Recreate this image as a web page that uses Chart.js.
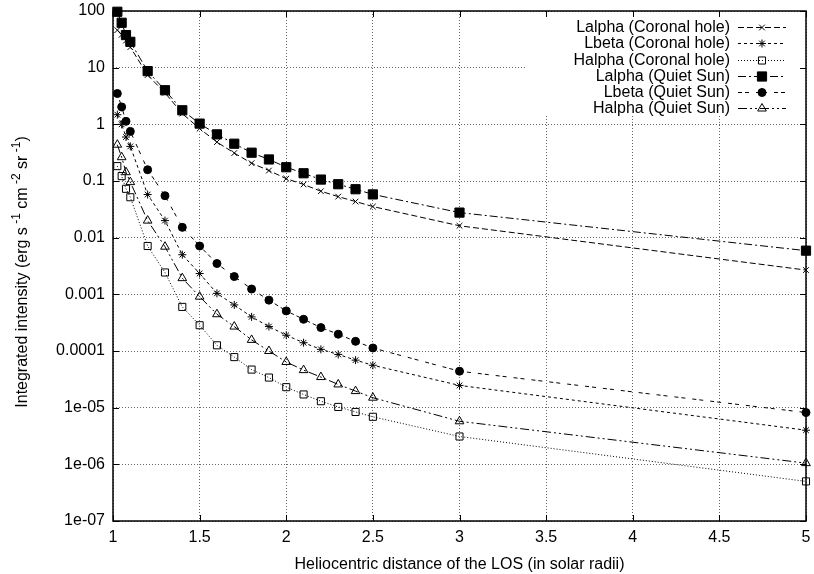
<!DOCTYPE html>
<html>
<head>
<meta charset="utf-8">
<script src="https://cdn.jsdelivr.net/npm/chart.js@4"></script>
<style>
  html, body { margin: 0; padding: 0; background: #fff; }
  #wrap { width: 814px; height: 574px; }
</style>
</head>
<body>
<div id="wrap"><canvas id="chart" width="814" height="574"></canvas></div>
<script>
// ---- data ----
const distances = [1.025, 1.05, 1.075, 1.1, 1.2, 1.3, 1.4, 1.5, 1.6, 1.7, 1.8, 1.9, 2.0, 2.1, 2.2, 2.3, 2.4, 2.5, 3, 5];

const lalphaCH = [46, 38, 30, 23, 7.4, 3.6, 1.55, 0.84, 0.486, 0.311, 0.206, 0.153, 0.11, 0.087, 0.066, 0.053, 0.0434, 0.0354, 0.0162, 0.00268];
const lbetaCH  = [1.48, 1.0, 0.597, 0.408, 0.0577, 0.02, 0.005, 0.00233, 0.00104, 0.00065, 0.0004, 0.00027, 0.00019, 0.00014, 0.000107, 8.7e-5, 6.9e-5, 5.6e-5, 2.47e-5, 4.0e-6];
const halphaCH = [0.183, 0.122, 0.0728, 0.0517, 0.00713, 0.00243, 0.0006, 0.000285, 0.000126, 7.8e-5, 4.7e-5, 3.4e-5, 2.3e-5, 1.71e-5, 1.3e-5, 1.03e-5, 8.4e-6, 6.9e-6, 3.1e-6, 5.0e-7];
const lalphaQS = [97, 62, 37.6, 28.6, 8.7, 4.0, 1.77, 1.03, 0.665, 0.455, 0.316, 0.24, 0.175, 0.137, 0.106, 0.0877, 0.0716, 0.058, 0.0277, 0.0059];
const lbetaQS  = [3.5, 2.03, 1.13, 0.75, 0.158, 0.055, 0.0152, 0.00713, 0.0035, 0.00206, 0.00124, 0.00079, 0.00051, 0.000363, 0.000259, 0.000198, 0.000148, 0.000113, 4.4e-5, 8.2e-6];
const halphaQS = [0.437, 0.263, 0.143, 0.0955, 0.02, 0.00693, 0.00193, 0.00091, 0.000446, 0.00027, 0.000157, 0.0001, 6.4e-5, 4.6e-5, 3.47e-5, 2.57e-5, 1.96e-5, 1.5e-5, 5.75e-6, 1.05e-6];

const seriesLabels = [
  'Lalpha (Coronal hole)', 'Lbeta (Coronal hole)', 'Halpha (Coronal hole)',
  'Lalpha (Quiet Sun)', 'Lbeta (Quiet Sun)', 'Halpha (Quiet Sun)'
];

const xTicks = [1, 1.5, 2, 2.5, 3, 3.5, 4, 4.5, 5];
const yTicks = [100, 10, 1, 0.1, 0.01, 0.001, 0.0001, 1e-5, 1e-6, 1e-7];
const yTickLabels = ['100', '10', '1', '0.1', '0.01', '0.001', '0.0001', '1e-05', '1e-06', '1e-07'];

const FONT = "'Liberation Sans', Arial, sans-serif";
const FONT_SIZE = 16;

// ---- styles ----
const styles = [
  { dash: [6, 3],             point: 'crossRot', radius: 4,   fill: false },
  { dash: [3, 3],             point: 'star',     radius: 4,   fill: false },
  { dash: [1, 2],             point: 'rect',     radius: 5,   fill: false },
  { dash: [8, 3, 2, 3],       point: 'rect',     radius: 6.5, fill: true  },
  { dash: [4, 3, 4, 7],       point: 'circle',   radius: 4,   fill: true  },
  { dash: [9, 3, 2, 3, 2, 3], point: 'triangle', radius: 5,   fill: false }
];

const seriesValues = [lalphaCH, lbetaCH, halphaCH, lalphaQS, lbetaQS, halphaQS];

const datasets = seriesValues.map((vals, i) => ({
  label: seriesLabels[i],
  data: distances.map((d, j) => ({ x: d, y: vals[j] })),
  borderColor: '#000',
  borderWidth: 1,
  borderDash: styles[i].dash,
  pointStyle: styles[i].point,
  pointRadius: styles[i].radius,
  pointHoverRadius: styles[i].radius,
  pointBorderColor: '#000',
  pointBorderWidth: 1,
  pointBackgroundColor: styles[i].fill ? '#000' : 'rgba(0,0,0,0)',
  fill: false,
  tension: 0,
  clip: false
}));

// ========================================
// 마커 그리기
// ========================================
function drawMarker(ctx, style, x, y) {
  const r = style.radius;
  ctx.save();
  ctx.setLineDash([]);
  ctx.strokeStyle = '#000';
  ctx.fillStyle = '#000';
  ctx.lineWidth = 1;
  ctx.beginPath();
  if (style.point === 'crossRot') {
    const o = r * Math.SQRT1_2;
    ctx.moveTo(x - o, y - o); ctx.lineTo(x + o, y + o);
    ctx.moveTo(x - o, y + o); ctx.lineTo(x + o, y - o);
    ctx.stroke();
  } else if (style.point === 'star') {
    const o = r * Math.SQRT1_2;
    ctx.moveTo(x - o, y - o); ctx.lineTo(x + o, y + o);
    ctx.moveTo(x - o, y + o); ctx.lineTo(x + o, y - o);
    ctx.moveTo(x - r, y); ctx.lineTo(x + r, y);
    ctx.moveTo(x, y - r); ctx.lineTo(x, y + r);
    ctx.stroke();
  } else if (style.point === 'rect') {
    const s = r * Math.SQRT1_2;
    ctx.rect(x - s, y - s, 2 * s, 2 * s);
    if (style.fill) ctx.fill();
    ctx.stroke();
  } else if (style.point === 'circle') {
    ctx.arc(x, y, r, 0, Math.PI * 2);
    ctx.fill();
    ctx.stroke();
  } else if (style.point === 'triangle') {
    ctx.moveTo(x, y - r);
    ctx.lineTo(x + r * 0.866, y + r * 0.5);
    ctx.lineTo(x - r * 0.866, y + r * 0.5);
    ctx.closePath();
    ctx.stroke();
  }
  ctx.restore();
}

// ========================================
// gnuplot 스타일 프레임 / 범례 / 축 제목
// ========================================
const gnuplotDecor = {
  id: 'gnuplotDecor',
  beforeDatasetsDraw(chart) {
    const { ctx, chartArea: a } = chart;
    // 범례 배경 (격자선 가림)
    ctx.save();
    ctx.fillStyle = '#fff';
    ctx.fillRect(525, a.top + 1, a.right - 525 - 1, 115 - a.top);
    ctx.restore();
  },
  afterDatasetsDraw(chart) {
    const { ctx, chartArea: a, scales } = chart;
    ctx.save();
    // 안쪽 눈금
    ctx.strokeStyle = '#000';
    ctx.lineWidth = 1;
    ctx.beginPath();
    const tl = 6;
    xTicks.forEach(v => {
      const px = Math.round(scales.x.getPixelForValue(v)) + 0.5;
      ctx.moveTo(px, a.bottom); ctx.lineTo(px, a.bottom - tl);
      ctx.moveTo(px, a.top); ctx.lineTo(px, a.top + tl);
    });
    yTicks.forEach(v => {
      const py = Math.round(scales.y.getPixelForValue(v)) + 0.5;
      ctx.moveTo(a.left, py); ctx.lineTo(a.left + tl, py);
      ctx.moveTo(a.right, py); ctx.lineTo(a.right - tl, py);
    });
    ctx.stroke();
    // 프레임
    ctx.lineWidth = 1.5;
    ctx.strokeRect(a.left, a.top, a.right - a.left, a.bottom - a.top);

    // 범례
    ctx.font = FONT_SIZE + 'px ' + FONT;
    ctx.fillStyle = '#000';
    ctx.textAlign = 'right';
    ctx.textBaseline = 'middle';
    const rowY = [27, 43, 60, 76, 92, 108];
    chart.data.datasets.forEach((ds, i) => {
      const y = rowY[i];
      ctx.fillText(ds.label, 730, y + 1);
      ctx.save();
      ctx.lineWidth = 1;
      ctx.setLineDash(styles[i].dash);
      ctx.beginPath();
      ctx.moveTo(738, y + 0.5);
      ctx.lineTo(786, y + 0.5);
      ctx.stroke();
      ctx.restore();
      drawMarker(ctx, styles[i], 762, y + 0.5);
    });

    // Y축 제목 (위첨자 포함)
    const parts = [
      ['Integrated intensity (erg s', false], [' -1', true],
      [' cm', false], [' -2', true],
      [' sr', false], [' -1', true], [')', false]
    ];
    const bigFont = FONT_SIZE + 'px ' + FONT;
    const smallFont = '12px ' + FONT;
    let total = 0;
    parts.forEach(([t, sup]) => { ctx.font = sup ? smallFont : bigFont; total += ctx.measureText(t).width; });
    ctx.translate(21, 272);
    ctx.rotate(-Math.PI / 2);
    ctx.textAlign = 'left';
    ctx.textBaseline = 'alphabetic';
    let cx = -total / 2;
    parts.forEach(([t, sup]) => {
      ctx.font = sup ? smallFont : bigFont;
      ctx.fillText(t, cx, sup ? -1 : 6);
      cx += ctx.measureText(t).width;
    });
    ctx.restore();
  }
};

const ctx = document.getElementById('chart').getContext('2d');
new Chart(ctx, {
  type: 'line',
  data: { datasets },
  options: {
    responsive: false,
    animation: false,
    devicePixelRatio: 1,
    layout: { padding: { left: 0, right: 8, top: 11, bottom: 0 } },
    plugins: {
      legend: { display: false },
      tooltip: { enabled: false }
    },
    scales: {
      x: {
        type: 'linear',
        min: 1,
        max: 5,
        afterBuildTicks: scale => { scale.ticks = xTicks.map(v => ({ value: v })); },
        afterFit: scale => {
          scale.height = 53;
          scale.paddingLeft = 0;
          scale.paddingRight = 0;
        },
        ticks: {
          color: '#000',
          font: { family: FONT, size: FONT_SIZE },
          padding: 7,
          maxRotation: 0,
          autoSkip: false,
          callback: v => String(v)
        },
        grid: { color: 'rgba(0,0,0,0.6)', lineWidth: 1, drawTicks: false },
        border: { display: false, dash: [1, 2] },
        title: {
          display: true,
          text: 'Heliocentric distance of the LOS (in solar radii)',
          color: '#000',
          font: { family: FONT, size: FONT_SIZE },
          padding: { top: 2, bottom: 0 }
        }
      },
      y: {
        type: 'logarithmic',
        min: 1e-7,
        max: 100,
        afterBuildTicks: scale => { scale.ticks = yTicks.map(v => ({ value: v })); },
        afterFit: scale => {
          scale.width = 113;
          scale.paddingTop = 0;
          scale.paddingBottom = 0;
        },
        ticks: {
          color: '#000',
          font: { family: FONT, size: FONT_SIZE },
          padding: 8,
          autoSkip: false,
          callback: v => yTickLabels[yTicks.indexOf(v)] ?? ''
        },
        grid: { color: 'rgba(0,0,0,0.6)', lineWidth: 1, drawTicks: false },
        border: { display: false, dash: [1, 2] }
      }
    }
  },
  plugins: [gnuplotDecor]
});
</script>
</body>
</html>
